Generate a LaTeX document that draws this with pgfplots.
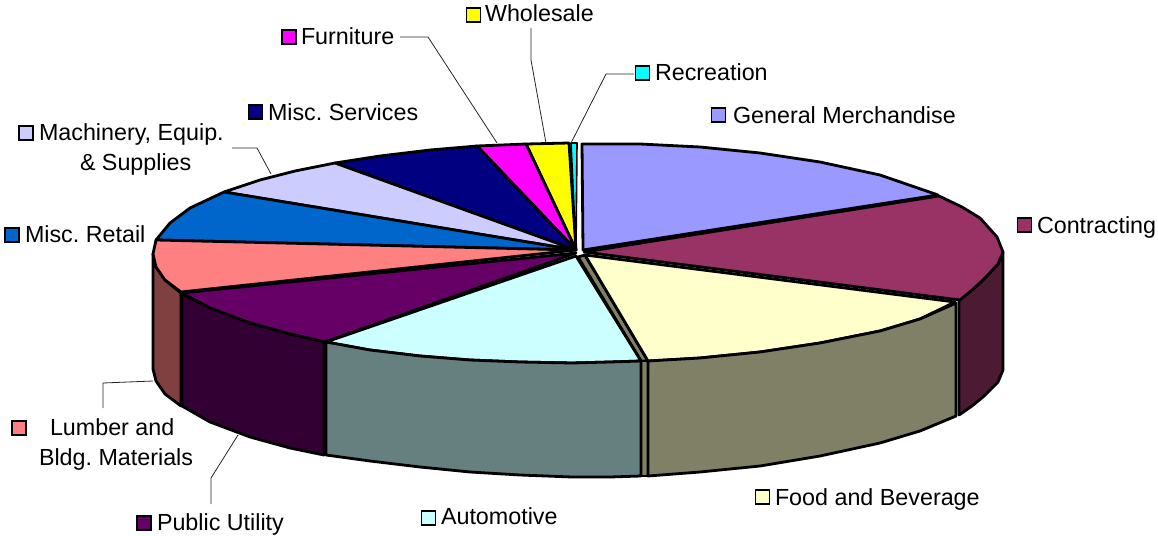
\documentclass[border=0pt]{standalone}
\usepackage{pgfplots}
\pgfplotsset{compat=1.18}
\usepackage{fontspec}
\setmainfont{Liberation Sans}
\definecolor{cGM}{HTML}{9999FF}
\definecolor{cCon}{HTML}{993366}
\definecolor{cConS}{HTML}{4D1A33}
\definecolor{cFood}{HTML}{FFFFCC}
\definecolor{cFoodS}{HTML}{808066}
\definecolor{cAuto}{HTML}{CCFFFF}
\definecolor{cAutoS}{HTML}{668080}
\definecolor{cPub}{HTML}{660066}
\definecolor{cPubS}{HTML}{330033}
\definecolor{cLum}{HTML}{FF8080}
\definecolor{cLumS}{HTML}{804040}
\definecolor{cRet}{HTML}{0066CC}
\definecolor{cMach}{HTML}{CCCCFF}
\definecolor{cServ}{HTML}{000080}
\definecolor{cFurn}{HTML}{FF00FF}
\definecolor{cWhole}{HTML}{FFFF00}
\definecolor{cRec}{HTML}{00FFFF}
\tikzset{
 wedge/.style={draw=black,line width=2.8pt,line join=round,fill=#1},
 thinwedge/.style={draw=black,line width=1.6pt,line join=round,fill=#1},
 leader/.style={draw=black!85,line width=0.8pt},
 key/.style={only marks,mark=square*,mark size=7pt,mark options={draw=black,line width=1.8pt,fill=#1}},
 lab/.style={anchor=base west,inner sep=0pt,outer sep=0pt,text=black,font=\fontsize{23.3}{27}\selectfont\frenchspacing}
}
\begin{document}
\begin{tikzpicture}
\useasboundingbox (0,0) rectangle (1158pt,535pt);
\begin{axis}[
 scale only axis,width=1158pt,height=535pt,
 xmin=0,xmax=1158,ymin=0,ymax=535,y dir=reverse,
 at={(0,0)},anchor=south west,
 hide axis,clip=false]
% sides at the back of the front slices
\addplot[wedge=cConS] coordinates {(959,299)(972,290)(983,280)(998,264)(1003,252)(1003,370)(998,382)(983,397)(972,406)(959,415)} --cycle;
\addplot[wedge=cLumS] coordinates {(153,254)(156,267)(165,280)(181,293)(181,406)(165,394)(156,381)(153,369)} --cycle;
% top faces
\addplot[wedge=cGM] coordinates {(583,250)(582,144)(640,144)(700,147)(760,153)(820,162)(880,175)(938,195)} --cycle;
\addplot[wedge=cWhole] coordinates {(576,250)(526,144)(569,143)} --cycle;
\addplot[thinwedge=cRec] coordinates {(576,250)(571,143)(577,143)} --cycle;
\addplot[wedge=cFurn] coordinates {(576,250)(477,146)(526,144)} --cycle;
\addplot[wedge=cServ] coordinates {(576,250)(335,163)(380,156)(430,150)(477,146)} --cycle;
\addplot[wedge=cMach] coordinates {(576,250)(224,192)(260,180)(295,171)(335,163)} --cycle;
\addplot[wedge=cRet] coordinates {(576,250)(156,240)(170,223)(190,208)(224,192)} --cycle;
\addplot[wedge=cCon] coordinates {(584,252)(939,196)(962,207)(980,218)(997,237)(1003,252)(998,264)(983,280)(972,290)(960,300)} --cycle;
\addplot[wedge=cLum] coordinates {(576,250)(156,240)(153,254)(156,267)(165,280)(181,292)} --cycle;
\addplot[wedge=cPub] coordinates {(576,253)(182,293)(210,308)(250,323)(290,334)(325,342)} --cycle;
% side faces of the front slices
\addplot[wedge=cPubS] coordinates {(182,294)(210,308)(250,323)(290,334)(324,342)(324,455)(290,448)(250,437)(210,422)(182,406)} --cycle;
\addplot[wedge=cFoodS] coordinates {(578,257)(641,361)(648,361)(585,255)} --cycle;
\addplot[wedge=cFoodS] coordinates {(641,361)(648,361)(648,476)(641,476)} --cycle;
\addplot[wedge=cFood] coordinates {(585,255)(648,361)(700,358)(760,352)(820,343)(880,331)(920,319)(955,302)} --cycle;
\addplot[wedge=cFoodS] coordinates {(648,361)(700,358)(760,352)(820,343)(880,331)(920,319)(956,303)(956,416)(920,431)(880,443)(820,456)(760,466)(700,472)(648,476)} --cycle;
\addplot[wedge=cAuto] coordinates {(576,256)(326,342)(370,350)(420,356)(470,360)(520,362)(572,363)(610,362)(641,361)} --cycle;
\addplot[wedge=cAutoS] coordinates {(326,342)(370,350)(420,356)(470,360)(520,362)(572,363)(610,362)(641,361)(641,476)(610,477)(572,477)(520,475)(470,472)(420,467)(370,461)(326,455)} --cycle;
% leader lines
\addplot[leader] coordinates {(634,74)(606,74)(571,143)};
\addplot[leader] coordinates {(531,28)(531,60)(546,143)};
\addplot[leader] coordinates {(400,37)(428,37)(497,143)};
\addplot[leader] coordinates {(232,148)(257,148)(271,174)};
\addplot[leader] coordinates {(103,408)(103,383)(153,381)};
\addplot[leader] coordinates {(211,504)(211,478)(238,435)};
% legend keys
\addplot[key=cGM] coordinates {(718.5,115)};
\addplot[key=cCon] coordinates {(1024.5,225)};
\addplot[key=cFood] coordinates {(762.5,497)};
\addplot[key=cAuto] coordinates {(428.5,518)};
\addplot[key=cPub] coordinates {(144,523)};
\addplot[key=cLum] coordinates {(19,428)};
\addplot[key=cRet] coordinates {(12,235)};
\addplot[key=cMach] coordinates {(26,133)};
\addplot[key=cServ] coordinates {(255.5,112)};
\addplot[key=cFurn] coordinates {(289,37)};
\addplot[key=cWhole] coordinates {(473.5,15)};
\addplot[key=cRec] coordinates {(642.5,73)};
% labels
\node[lab] at (axis cs:733,123) {General Merchandise};
\node[lab] at (axis cs:1037,233) {Contracting};
\node[lab] at (axis cs:775,505) {Food and Beverage};
\node[lab] at (axis cs:441,524) {Automotive};
\node[lab] at (axis cs:157,530) {Public Utility};
\node[lab] at (axis cs:50,435) {Lumber and};
\node[lab] at (axis cs:39,465) {Bldg. Materials};
\node[lab] at (axis cs:25,242) {Misc. Retail};
\node[lab] at (axis cs:39,140) {Machinery, Equip.};
\node[lab] at (axis cs:80,170) {\& Supplies};
\node[lab] at (axis cs:268,120) {Misc. Services};
\node[lab] at (axis cs:301,45) {Furniture};
\node[lab] at (axis cs:485,22) {Wholesale};
\node[lab] at (axis cs:655,81) {Recreation};
\end{axis}
\end{tikzpicture}
\end{document}
